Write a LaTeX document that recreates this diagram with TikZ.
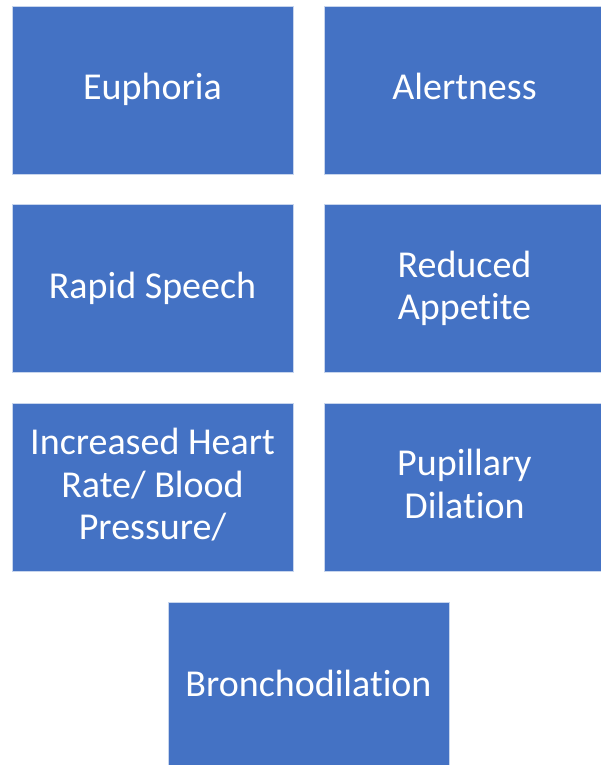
\documentclass[tikz,border=0pt]{standalone}
\usepackage{fontspec}
\setmainfont[Ligatures={NoCommon,NoRare,NoDiscretionary}]{Carlito}
\definecolor{boxblue}{HTML}{4472C4}
\newcommand\lnstrut{\rule[-7.5pt]{0pt}{35pt}}
\begin{document}
\begin{tikzpicture}[x=1pt,y=-1pt,
  sbox/.style={rectangle, fill=boxblue, draw=white!70!boxblue, line width=0.8pt,
    minimum width=281pt, minimum height=168pt, inner sep=0pt,
    text=white, align=center, font=\fontsize{38}{42.5}\selectfont}]
\path[use as bounding box] (0,0) rectangle (601,765);
\node[sbox] (eu) at (152.5,90) {\lnstrut Euphoria};
\node[sbox] (al) at (464.5,90) {\lnstrut Alertness};
\node[sbox] (rs) at (152.5,288.5) {\lnstrut Rapid Speech};
\node[sbox] (ra) at (464.5,288.5) {\lnstrut Reduced\\\lnstrut Appetite};
\node[sbox] (hr) at (152.5,487) {\lnstrut Increased Heart\\\lnstrut Rate/ Blood\\\lnstrut Pressure/};
\node[sbox] (pd) at (464.5,487) {\lnstrut Pupillary\\\lnstrut Dilation};
\node[sbox] (br) at (308.5,686) {\lnstrut Bronchodilation};
\end{tikzpicture}
\end{document}
